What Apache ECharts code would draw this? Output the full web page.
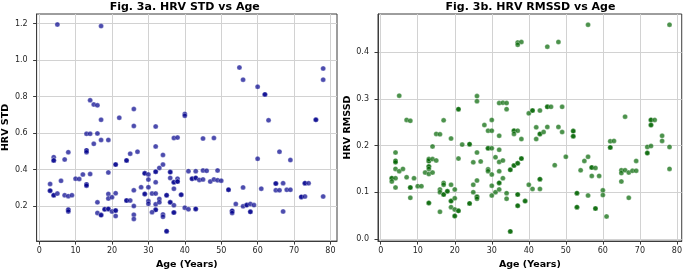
<!DOCTYPE html>
<html>
<head>
<meta charset="utf-8">
<script src="https://cdn.jsdelivr.net/npm/echarts@6/dist/echarts.min.js"></script>
<style>
html,body{margin:0;padding:0;background:#fff;}
#chart{width:685px;height:275px;}
</style>
</head>
<body>
<div id="chart"></div>
<script>
// ---- Data ----
const titleA = 'Fig. 3a. HRV STD vs Age';
const titleB = 'Fig. 3b. HRV RMSSD vs Age';
const xLabel = 'Age (Years)';
const yLabelA = 'HRV STD';
const yLabelB = 'HRV RMSSD';

const xTicks = [0, 10, 20, 30, 40, 50, 60, 70, 80];
const yTicksA = [0.2, 0.4, 0.6, 0.8, 1.0, 1.2];
const yTicksB = [0.0, 0.1, 0.2, 0.3, 0.4];

const stdAges = [5,17,55,56,60,62,62,63,76,76,78,78,14,15,16,17,22,26,26,32,40,40,13,14,16,37,38,45,48,15,17,19,13,13,13,8,25,27,32,34,4,4,4,7,24,24,21,21,34,33,32,32,29,29,30,19,12,14,36,36,41,43,45,46,49,60,66,69,10,11,6,3,30,32,36,38,37,37,38,38,42,42,43,43,44,45,47,48,49,50,13,13,13,28,30,3,3,4,4,5,7,8,9,19,21,26,29,29,31,32,33,37,39,39,35,35,52,52,56,61,65,65,67,65,66,68,69,73,73,74,72,72,73,78,19,20,16,24,24,25,30,30,32,33,36,36,37,26,40,41,43,43,54,56,57,57,58,59,8,8,8,18,18,19,19,20,21,21,32,32,31,53,53,53,58,58,67,16,17,17,21,26,26,34,34,37,37,35,35];
const stdValues = [1.195,1.187,0.959,0.893,0.854,0.812,0.812,0.670,0.673,0.673,0.954,0.893,0.780,0.757,0.752,0.673,0.684,0.732,0.639,0.636,0.705,0.695,0.596,0.596,0.598,0.573,0.575,0.570,0.573,0.541,0.562,0.562,0.505,0.505,0.495,0.495,0.487,0.498,0.527,0.480,0.468,0.450,0.450,0.455,0.450,0.450,0.427,0.427,0.427,0.409,0.388,0.388,0.379,0.379,0.373,0.384,0.373,0.375,0.386,0.386,0.391,0.391,0.395,0.393,0.395,0.459,0.498,0.452,0.350,0.348,0.338,0.321,0.345,0.330,0.354,0.350,0.330,0.330,0.334,0.334,0.350,0.350,0.354,0.354,0.343,0.346,0.334,0.346,0.341,0.339,0.318,0.318,0.311,0.303,0.303,0.284,0.284,0.259,0.259,0.268,0.259,0.254,0.259,0.266,0.270,0.286,0.266,0.266,0.268,0.268,0.239,0.295,0.262,0.262,0.259,0.259,0.289,0.289,0.302,0.295,0.323,0.323,0.325,0.286,0.286,0.289,0.289,0.325,0.325,0.325,0.250,0.250,0.252,0.252,0.241,0.248,0.220,0.230,0.230,0.230,0.227,0.212,0.209,0.220,0.220,0.220,0.204,0.200,0.191,0.182,0.184,0.184,0.211,0.198,0.205,0.205,0.211,0.205,0.179,0.179,0.170,0.182,0.182,0.184,0.184,0.170,0.175,0.175,0.179,0.179,0.166,0.173,0.173,0.162,0.168,0.168,0.170,0.162,0.150,0.150,0.145,0.152,0.129,0.154,0.141,0.164,0.164,0.062,0.062];

const rmssdAges = [56,78,37,38,37,45,48,5,26,26,21,21,32,33,34,34,40,41,41,43,45,45,46,49,7,8,17,30,66,73,73,74,73,73,28,29,30,36,36,37,36,42,45,48,43,43,44,49,52,52,15,16,32,52,52,76,38,42,76,4,4,4,4,3,3,3,4,5,6,4,4,7,8,8,8,9,10,11,12,13,13,13,13,13,13,13,14,14,14,15,13,13,16,16,16,17,17,17,17,18,18,19,19,19,19,19,20,20,20,20,20,21,21,21,22,24,24,24,24,25,25,25,26,26,26,26,26,27,29,29,29,29,30,30,30,30,31,31,32,32,32,32,32,32,33,33,34,34,35,35,35,35,36,36,37,37,37,37,37,37,38,38,39,39,40,41,43,43,43,47,50,53,53,53,53,54,55,56,56,57,57,57,58,58,58,59,60,60,61,62,62,62,63,65,65,65,66,67,67,68,69,69,72,72,72,73,78,78];
const rmssdValues = [0.459,0.459,0.421,0.422,0.416,0.412,0.422,0.307,0.306,0.295,0.278,0.278,0.291,0.292,0.291,0.278,0.269,0.275,0.275,0.275,0.283,0.283,0.283,0.283,0.255,0.253,0.254,0.255,0.262,0.255,0.255,0.255,0.244,0.244,0.244,0.232,0.232,0.232,0.232,0.232,0.225,0.239,0.240,0.240,0.225,0.225,0.229,0.229,0.231,0.231,0.225,0.224,0.221,0.220,0.220,0.221,0.214,0.214,0.210,0.185,0.167,0.167,0.164,0.130,0.130,0.123,0.150,0.145,0.150,0.130,0.110,0.132,0.110,0.110,0.088,0.130,0.113,0.113,0.142,0.167,0.167,0.171,0.155,0.155,0.150,0.139,0.171,0.142,0.198,0.168,0.077,0.077,0.106,0.100,0.058,0.120,0.116,0.095,0.095,0.102,0.102,0.215,0.116,0.081,0.081,0.068,0.106,0.087,0.063,0.049,0.049,0.060,0.060,0.172,0.202,0.203,0.203,0.076,0.076,0.116,0.100,0.164,0.185,0.125,0.090,0.090,0.086,0.166,0.194,0.194,0.149,0.145,0.194,0.138,0.114,0.093,0.175,0.100,0.191,0.165,0.145,0.120,0.120,0.106,0.168,0.130,0.098,0.086,0.148,0.148,0.016,0.016,0.157,0.157,0.162,0.162,0.095,0.095,0.071,0.071,0.172,0.172,0.081,0.081,0.116,0.107,0.128,0.128,0.107,0.158,0.176,0.098,0.098,0.068,0.068,0.147,0.167,0.176,0.093,0.153,0.153,0.135,0.152,0.065,0.065,0.135,0.104,0.094,0.048,0.196,0.196,0.209,0.210,0.147,0.141,0.123,0.147,0.142,0.088,0.146,0.146,0.167,0.184,0.184,0.197,0.199,0.197,0.150];

// ---- Styling ----
const spineColor = '#3c3c3c';
const gridColor = '#d2d2d2';
const tickFont = {fontSize: 8, color: '#262626', fontFamily: 'DejaVu Sans'};
const nameFont = {fontSize: 9.5, fontWeight: 'bold', color: '#000', fontFamily: 'DejaVu Sans'};

function pairs(xs, ys) { return xs.map((x, i) => [x, ys[i]]); }

function xAxisCfg(gi, min, max) {
  return {
    type: 'value', gridIndex: gi, min: min, max: max,
    name: xLabel, nameLocation: 'middle', nameGap: 15, nameTextStyle: nameFont,
    axisLine: {show: true, onZero: false, lineStyle: {color: spineColor, width: 1}},
    axisTick: {show: true, customValues: xTicks, length: 3.5, lineStyle: {color: spineColor, width: 1}},
    axisLabel: Object.assign({customValues: xTicks, margin: 6, formatter: v => String(v)}, tickFont),
    splitLine: {show: true, lineStyle: {color: gridColor, width: 1}}
  };
}
function yAxisCfg(gi, min, max, ticks, name, gap) {
  return {
    type: 'value', gridIndex: gi, min: min, max: max,
    name: name, nameLocation: 'middle', nameGap: gap, nameTextStyle: nameFont,
    axisLine: {show: true, onZero: false, lineStyle: {color: spineColor, width: 1}},
    axisTick: {show: true, customValues: ticks, length: 3.5, lineStyle: {color: spineColor, width: 1}},
    axisLabel: Object.assign({customValues: ticks, margin: 9, formatter: v => v.toFixed(1)}, tickFont),
    splitLine: {show: true, lineStyle: {color: gridColor, width: 1}}
  };
}

const chart = echarts.init(document.getElementById('chart'), null, {renderer: 'canvas'});
chart.setOption({
  animation: false,
  backgroundColor: '#fff',
  graphic: [
    {type: 'text', x: 184.7, y: 7, style: {text: titleA, align: 'center', verticalAlign: 'middle', fontSize: 11, fontWeight: 'bold', fontFamily: 'DejaVu Sans', fill: '#000'}},
    {type: 'text', x: 530.5, y: 7, style: {text: titleB, align: 'center', verticalAlign: 'middle', fontSize: 11, fontWeight: 'bold', fontFamily: 'DejaVu Sans', fill: '#000'}}
  ],
  grid: [
    {left: 32, top: 14, width: 305, height: 233, show: true, borderColor: spineColor, borderWidth: 1, containLabel: false},
    {left: 378, top: 14, width: 304, height: 233, show: true, borderColor: spineColor, borderWidth: 1, containLabel: false}
  ],
  xAxis: [xAxisCfg(0, -0.7, 81.8), xAxisCfg(1, -0.73, 81.3)],
  yAxis: [
    yAxisCfg(0, 0.0075, 1.253, yTicksA, yLabelA, 21),
    yAxisCfg(1, -0.0048, 0.482, yTicksB, yLabelB, 22)
  ],
  series: [
    {type: 'scatter', xAxisIndex: 0, yAxisIndex: 0, data: pairs(stdAges, stdValues), symbolSize: 5,
     itemStyle: {color: '#00008B', opacity: 0.7, borderColor: '#ffffff', borderWidth: 0.4}},
    {type: 'scatter', xAxisIndex: 1, yAxisIndex: 1, data: pairs(rmssdAges, rmssdValues), symbolSize: 5,
     itemStyle: {color: '#006400', opacity: 0.7, borderColor: '#ffffff', borderWidth: 0.4}}
  ]
});
</script>
</body>
</html>
